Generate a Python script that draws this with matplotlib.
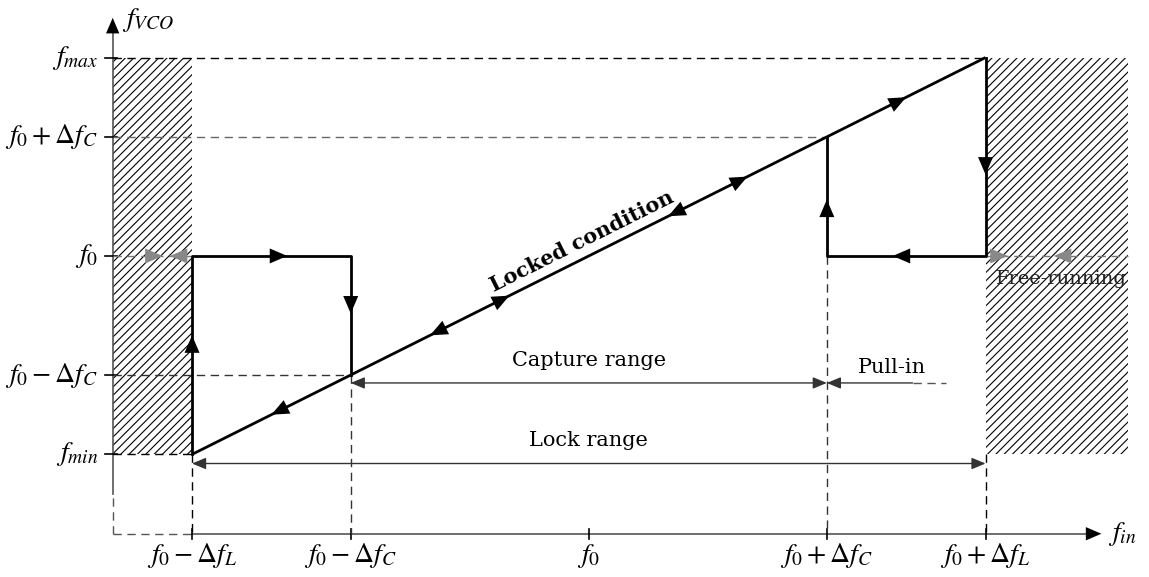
import numpy as np
import matplotlib
matplotlib.use("Agg")
import matplotlib.pyplot as plt

plt.rcParams['font.family'] = ['DejaVu Serif']
plt.rcParams['mathtext.fontset'] = 'stix'
plt.rcParams['hatch.linewidth'] = 0.8

# frequency marks (units: f0 = 0, dfC = 3, dfL = 5)
x_ticks = [-5, -3, 0, 3, 5]
x_labels = [r'$f_0-\Delta f_L$', r'$f_0-\Delta f_C$', r'$f_0$',
            r'$f_0+\Delta f_C$', r'$f_0+\Delta f_L$']
y_ticks = [-5, -3, 0, 3, 5]
y_labels = [r'$f_{min}$', r'$f_0-\Delta f_C$', r'$f_0$',
            r'$f_0+\Delta f_C$', r'$f_{max}$']

# lock characteristic
locked_x = [-5, 5]
locked_y = [-5, 5]
left_path_x = [-5, -5, -3, -3]
left_path_y = [-5, 0, 0, -3]
right_path_x = [5, 5, 3, 3]
right_path_y = [5, 0, 0, 3]

# arrow heads on the paths: tip x, tip y, direction x, direction y
path_heads = [(-5, -2.0, 0, 1), (-3.8, 0, 1, 0), (-3, -1.45, 0, -1),
              (-4, -4, -1, -1), (-2, -2, -1, -1), (1, 1, -1, -1),
              (-1, -1, 1, 1), (2, 2, 1, 1), (4, 4, 1, 1),
              (5, 2.05, 0, -1), (3.83, 0, -1, 0), (3, 1.42, 0, 1)]
free_heads = [(-5.37, 0, 1, 0), (-5.28, 0, -1, 0),
              (5.28, 0, 1, 0), (5.86, 0, -1, 0)]

fig = plt.figure(figsize=(11.49, 5.77), dpi=100)
ax = fig.add_axes([0, 0, 1, 1])
ax.set_xlim(-7.42, 7.06)
ax.set_ylim(-8.09, 6.45)
ax.axis('off')

x_axis_y = -7
y_axis_x = -6
dash = dict(lw=1.0, linestyle=(0, (6, 4)))


def head(x, y, dx, dy, color='k', size=18):
    n = np.hypot(dx, dy)
    ax.annotate('', xy=(x, y), xytext=(x - 0.15 * dx / n, y - 0.15 * dy / n),
                arrowprops=dict(arrowstyle='-|>,head_length=0.7,head_width=0.3',
                                color=color, lw=0, shrinkA=0, shrinkB=0,
                                mutation_scale=size))


# hatched out-of-lock regions
ax.fill_between([y_axis_x, x_ticks[0]], y_ticks[0], y_ticks[-1], facecolor='none',
                edgecolor='black', linewidth=0, hatch='////')
ax.fill_between([x_ticks[-1], 6.8], y_ticks[0], y_ticks[-1], facecolor='none',
                edgecolor='black', linewidth=0, hatch='////')

# axes
ax.plot([y_axis_x, y_axis_x], [-6.0, 5.8], color='#555', lw=1.2)
ax.plot([y_axis_x, y_axis_x], [x_axis_y, -6.0], color='#555', **dash)
ax.plot([x_ticks[0], 6.3], [x_axis_y, x_axis_y], color='#555', lw=1.2)
ax.plot([y_axis_x, x_ticks[0]], [x_axis_y, x_axis_y], color='#555', **dash)
head(6.46, x_axis_y, 1, 0, size=16)
head(y_axis_x, 6.0, 0, 1, size=16)
for xt, lab in zip(x_ticks, x_labels):
    ax.plot([xt, xt], [x_axis_y - 0.12, x_axis_y + 0.12], color='k', lw=1.2)
    ax.text(xt, -7.55, lab, ha='center', va='center', fontsize=20)
for yt, lab in zip(y_ticks, y_labels):
    ax.plot([y_axis_x - 0.1, y_axis_x + 0.06], [yt, yt], color='k', lw=1.2)
    ax.text(-6.18, yt, lab, ha='right', va='center', fontsize=20)
ax.text(-5.88, 5.94, r'$f_{VCO}$', ha='left', va='center', fontsize=20)
ax.text(6.54, x_axis_y, r'$f_{in}$', ha='left', va='center', fontsize=20)

# dashed guides
ax.plot([y_axis_x, 5], [5, 5], color='k', **dash)
ax.plot([y_axis_x, 3], [3, 3], color='#666', **dash)
ax.plot([y_axis_x, -5], [0, 0], color='#777', **dash)
ax.plot([5, 6.8], [0, 0], color='#777', **dash)
ax.plot([y_axis_x, -3], [-3, -3], color='#333', **dash)
ax.plot([y_axis_x, -5], [-5, -5], color='k', **dash)
ax.plot([-5, -5], [-5, x_axis_y], color='k', **dash)
ax.plot([-3, -3], [-3, x_axis_y], color='#333', **dash)
ax.plot([3, 3], [0, x_axis_y], color='#333', **dash)
ax.plot([5, 5], [-5, x_axis_y], color='k', **dash)

# characteristic
ax.plot(locked_x, locked_y, color='k', lw=2, solid_capstyle='butt')
ax.plot(left_path_x, left_path_y, color='k', lw=2)
ax.plot(right_path_x, right_path_y, color='k', lw=2)
for x, y, dx, dy in path_heads:
    head(x, y, dx, dy)
for x, y, dx, dy in free_heads:
    head(x, y, dx, dy, color='#888')

# ranges
rng = dict(arrowstyle='<|-|>,head_length=0.6,head_width=0.25', color='#333',
           lw=1.0, shrinkA=0, shrinkB=0, mutation_scale=14)
ax.annotate('', xy=(-5, -5.23), xytext=(5, -5.23), arrowprops=rng)
ax.annotate('', xy=(-3, -3.2), xytext=(3, -3.2), arrowprops=rng)
ax.annotate('', xy=(3, -3.2), xytext=(4.08, -3.2),
            arrowprops=dict(rng, arrowstyle='-|>,head_length=0.6,head_width=0.25'))
ax.plot([4.08, 4.5], [-3.2, -3.2], color='#555', **dash)

ax.text(0, -4.64, 'Lock range', ha='center', va='center', fontsize=15)
ax.text(0, -2.64, 'Capture range', ha='center', va='center', fontsize=15)
ax.text(3.82, -2.8, 'Pull-in', ha='center', va='center', fontsize=15)
ax.text(5.95, -0.58, 'Free-running', ha='center', va='center', fontsize=14,
        color='#222')
ax.text(-0.09, 0.37, 'Locked condition', ha='center', va='center', fontsize=15,
        fontweight='bold', rotation=26.57, rotation_mode='anchor')

fig.savefig('out.png', dpi=100)
